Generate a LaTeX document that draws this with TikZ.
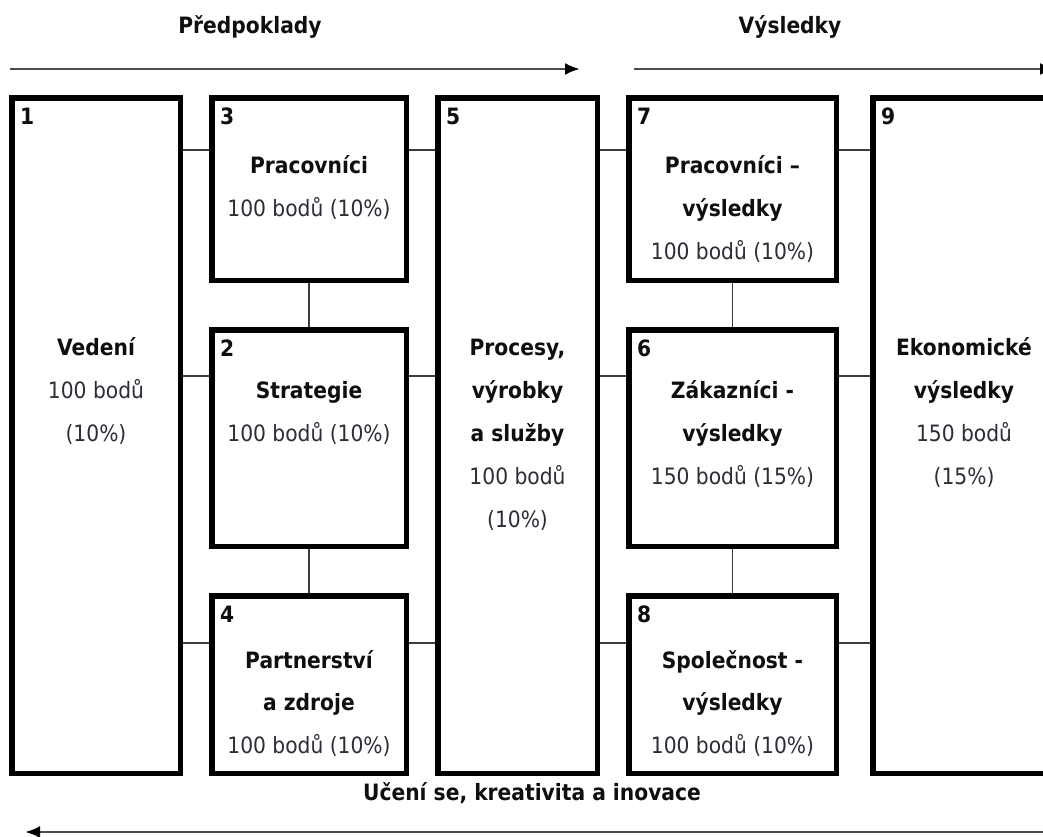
\documentclass[tikz,border=0pt]{standalone}
\usepackage{fontspec}
\setmainfont{DejaVu Sans}[FakeStretch=0.9]
\usetikzlibrary{arrows.meta}
\definecolor{txt}{RGB}{45,45,55}
\definecolor{ink}{RGB}{15,15,15}
\definecolor{conn}{RGB}{60,60,60}
\definecolor{arr}{RGB}{75,75,75}
\begin{document}
\begin{tikzpicture}[x=1pt,y=-1pt,
  box/.style={draw=black,line width=5.5pt,fill=white,inner sep=0pt,outer sep=2.75pt},
  bt/.style={font=\fontsize{22.5pt}{27pt}\selectfont\bfseries,text=ink,anchor=base,inner sep=0pt},
  rt/.style={font=\fontsize{22.5pt}{27pt}\selectfont,text=txt,anchor=base,inner sep=0pt},
  num/.style={font=\fontsize{22.5pt}{27pt}\selectfont\bfseries,text=ink,anchor=base west,inner sep=0pt},
  connector/.style={draw=conn,line width=1.5pt},
  flow/.style={draw=arr,line width=2.6pt,-{Latex[length=15pt,width=12pt,black]}}]
\useasboundingbox (0,0) rectangle (1043,836);
\begin{scope}
\clip (0,0) rectangle (1043,836);
\fill[white] (0,0) rectangle (1043,836);
% boxes
\node[box,minimum width=168.5pt,minimum height=675.5pt] (b1) at (96,435.5) {};
\node[box,minimum width=194.5pt,minimum height=182.5pt] (b3) at (309,189) {};
\node[box,minimum width=194.5pt,minimum height=216.5pt] (b2) at (309,438) {};
\node[box,minimum width=194.5pt,minimum height=177.5pt] (b4) at (309,684.5) {};
\node[box,minimum width=159.5pt,minimum height=675.5pt] (b5) at (517.5,435.5) {};
\node[box,minimum width=207.5pt,minimum height=182.5pt] (b7) at (732.5,189) {};
\node[box,minimum width=207.5pt,minimum height=216.5pt] (b6) at (732.5,438) {};
\node[box,minimum width=207.5pt,minimum height=177.5pt] (b8) at (732.5,684.5) {};
\node[box,minimum width=184.5pt,minimum height=675.5pt] (b9) at (965,435.5) {};
% row coordinates
\coordinate (r1) at (0,150);
\coordinate (r2) at (0,376);
\coordinate (r3) at (0,643);
% horizontal connectors
\draw[connector] (b1.east |- r1) -- (b3.west |- r1);
\draw[connector] (b3.east |- r1) -- (b5.west |- r1);
\draw[connector] (b5.east |- r1) -- (b7.west |- r1);
\draw[connector] (b7.east |- r1) -- (b9.west |- r1);
\draw[connector] (b1.east |- r2) -- (b2.west |- r2);
\draw[connector] (b2.east |- r2) -- (b5.west |- r2);
\draw[connector] (b5.east |- r2) -- (b6.west |- r2);
\draw[connector] (b6.east |- r2) -- (b9.west |- r2);
\draw[connector] (b1.east |- r3) -- (b4.west |- r3);
\draw[connector] (b4.east |- r3) -- (b5.west |- r3);
\draw[connector] (b5.east |- r3) -- (b8.west |- r3);
\draw[connector] (b8.east |- r3) -- (b9.west |- r3);
% vertical connectors
\draw[connector] (b3.south) -- (b2.north);
\draw[connector] (b2.south) -- (b4.north);
\draw[connector] (b7.south) -- (b6.north);
\draw[connector] (b6.south) -- (b8.north);
% numbers
\node[num] (n1) at (20,124) {1};
\node[num] (n3) at (220,124) {3};
\node[num] (n2) at (220,356) {2};
\node[num] (n4) at (220,622) {4};
\node[num] (n5) at (446,124) {5};
\node[num] (n7) at (637,124) {7};
\node[num] (n6) at (637,356) {6};
\node[num] (n8) at (637,622) {8};
\node[num] (n9) at (881,124) {9};
% box 1
\node[bt] (t1a) at (96,355) {Vedení};
\node[rt] (t1b) at (96,398) {100 bodů};
\node[rt] (t1c) at (96,441) {(10\%)};
% box 3
\node[bt] (t3a) at (309,173) {Pracovníci};
\node[rt] (t3b) at (309,216) {100 bodů (10\%)};
% box 2
\node[bt] (t2a) at (309,398) {Strategie};
\node[rt] (t2b) at (309,441) {100 bodů (10\%)};
% box 4
\node[bt] (t4a) at (309,668) {Partnerství};
\node[bt] (t4b) at (309,710) {a zdroje};
\node[rt] (t4c) at (309,753) {100 bodů (10\%)};
% box 5
\node[bt] (t5a) at (517.5,355) {Procesy,};
\node[bt] (t5b) at (517.5,398) {výrobky};
\node[bt] (t5c) at (517.5,441) {a služby};
\node[rt] (t5d) at (517.5,484) {100 bodů};
\node[rt] (t5e) at (517.5,527) {(10\%)};
% box 7
\node[bt] (t7a) at (732.5,173) {Pracovníci –};
\node[bt] (t7b) at (732.5,216) {výsledky};
\node[rt] (t7c) at (732.5,259) {100 bodů (10\%)};
% box 6
\node[bt] (t6a) at (732.5,398) {Zákazníci -};
\node[bt] (t6b) at (732.5,441) {výsledky};
\node[rt] (t6c) at (732.5,484) {150 bodů (15\%)};
% box 8
\node[bt] (t8a) at (732.5,668) {Společnost -};
\node[bt] (t8b) at (732.5,710) {výsledky};
\node[rt] (t8c) at (732.5,753) {100 bodů (10\%)};
% box 9
\node[bt] (t9a) at (964,355) {Ekonomické};
\node[bt] (t9b) at (964,398) {výsledky};
\node[rt] (t9c) at (964,441) {150 bodů};
\node[rt] (t9d) at (964,484) {(15\%)};
% titles
\node[bt] (h1) at (250,33) {Předpoklady};
\node[bt] (h2) at (790,33) {Výsledky};
\node[bt] (h3) at (532,800) {Učení se, kreativita a inovace};
% arrows
\coordinate (a1s) at (10,69);
\coordinate (a1e) at (580,69);
\coordinate (a2s) at (634,69);
\coordinate (a2e) at (1055,69);
\coordinate (a3s) at (1060,832);
\coordinate (a3e) at (25,832);
\draw[flow] (a1s) -- (a1e);
\draw[flow] (a2s) -- (a2e);
\draw[flow] (a3s) -- (a3e);
\end{scope}
\end{tikzpicture}
\end{document}
